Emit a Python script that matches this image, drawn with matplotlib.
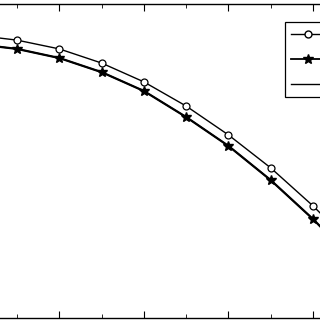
import matplotlib
matplotlib.use('Agg')
import matplotlib.pyplot as plt
from matplotlib.ticker import MultipleLocator

# values (y scaled 0..1 over the visible axis height)
x = [0, 1, 2, 3, 4, 5, 6, 7, 8, 9]
y_circle = [0.901, 0.885, 0.857, 0.812, 0.752, 0.675, 0.583, 0.478, 0.357, 0.223]
y_star = [0.873, 0.857, 0.828, 0.783, 0.723, 0.640, 0.548, 0.439, 0.315, 0.178]
y_plain = y_star
labels = ['Series A', 'Series B', 'Series C']

fig = plt.figure(figsize=(3.2, 3.2), dpi=100)
ax = fig.add_axes([-0.1056, 0.00625, 1.216, 0.98125])

mark_x = x[1:9]
ax.plot(x, y_circle, color='black', lw=1.0)
ax.plot(mark_x, y_circle[1:9], 'o', color='black', mfc='white', ms=5, mew=0.9)
ax.plot(x, y_star, color='black', lw=1.6)
ax.plot(mark_x, y_star[1:9], '*', color='black', ms=7)
ax.plot(x, y_plain, color='black', lw=1.0)

# legend handles
h1, = ax.plot([], [], '-o', color='black', mfc='white', ms=5, lw=1.0)
h2, = ax.plot([], [], '-*', color='black', ms=7, lw=1.3)
h3, = ax.plot([], [], '-', color='black', lw=1.0)
leg = ax.legend([h1, h2, h3], labels, loc='upper left',
                bbox_to_anchor=(285 / 320, 1 - 22 / 320),
                bbox_transform=fig.transFigure, fancybox=False,
                edgecolor='black', framealpha=1, fontsize=10,
                handlelength=2.5, labelspacing=0.8, borderpad=0.4,
                borderaxespad=0)
leg.get_frame().set_linewidth(0.9)

ax.set_xlim(-0.2, 9)
ax.set_ylim(0, 1)
ax.xaxis.set_major_locator(MultipleLocator(2))
ax.xaxis.set_minor_locator(MultipleLocator(1))
ax.yaxis.set_major_locator(MultipleLocator(0.2))
ax.tick_params(which='both', direction='in', top=True, right=True,
               labelbottom=False, labelleft=False)
ax.tick_params(which='major', length=5)
ax.tick_params(which='minor', length=3)
for s in ax.spines.values():
    s.set_linewidth(1.0)

fig.savefig('out.png', dpi=100)
